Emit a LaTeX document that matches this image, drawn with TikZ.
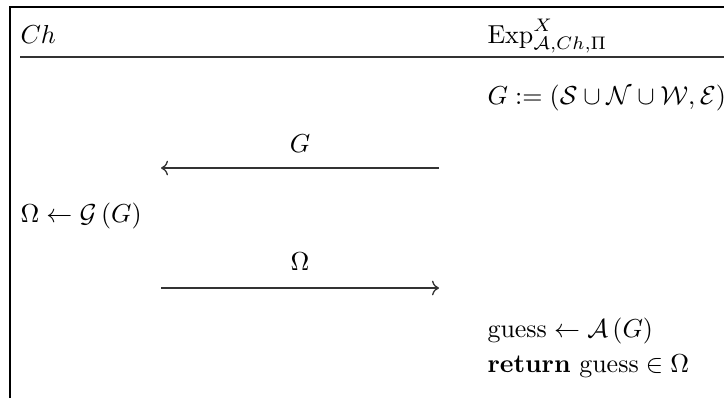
\documentclass[tikz,border=0pt]{standalone}
\usepackage{amsmath}
\usetikzlibrary{arrows.meta}

\begin{document}
\begin{tikzpicture}[
  x=0.385pt,y=-0.385pt,
  txt/.style={anchor=base west,inner sep=0pt},
  msg/.style={anchor=base,inner sep=0pt},
  frame/.style={line width=.8pt,draw=black},
  rule/.style={line width=.5pt,draw=black!80},
  send/.style={line width=.5pt,draw=black!80,->}
]
\useasboundingbox (0,0) rectangle (724,398);

% 1. Frame and header row.
\draw[frame] (10,398)--(10,7)--(724,7);
\node[txt] (ch) at (20,43) {$Ch$};
\node[txt] (exp) at (487,43) {$\mathrm{Exp}^{X}_{\mathcal{A},Ch,\Pi}$};
\draw[rule] (20,57)--(724,57);

% 2. Experiment builds the graph.
\node[txt] (graph) at (487,104)
  {$G := (\mathcal{S} \cup \mathcal{N} \cup \mathcal{W}, \mathcal{E})$};

% 3. Graph sent to the challenger.
\coordinate (gsrc) at (439,168);
\coordinate (gdst) at (161,168);
\node[msg] (glabel) at (300,152) {$G$};
\draw[send] (gsrc)--(gdst);

% 4. Challenger answers.
\node[txt] (omega) at (20,222) {$\Omega \leftarrow \mathcal{G}\left(G\right)$};
\coordinate (osrc) at (161,288);
\coordinate (odst) at (439,288);
\node[msg] (olabel) at (300,270) {$\Omega$};
\draw[send] (osrc)--(odst);

% 5. Adversary guess and result.
\node[txt] (guess) at (487,337) {$\text{guess} \leftarrow \mathcal{A}\left(G\right)$};
\node[txt] (ret) at (487,372) {$\textbf{return}\ \text{guess} \in \Omega$};

\end{tikzpicture}
\end{document}
